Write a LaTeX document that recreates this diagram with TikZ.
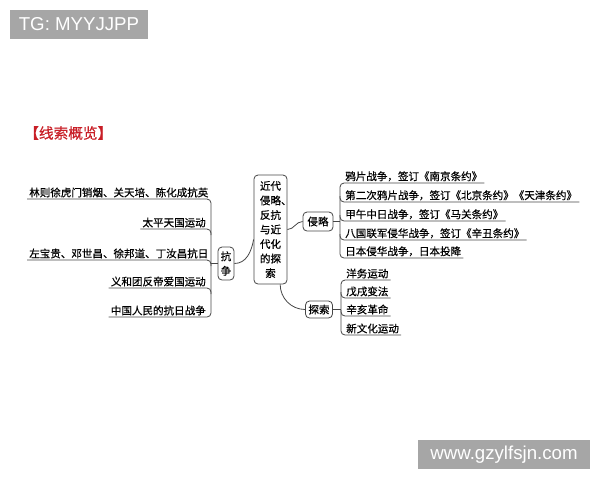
\documentclass[tikz,border=0pt]{standalone}
\usepackage{fontspec}
\setmainfont{Noto Sans CJK SC}[FakeBold=0.6]
\newfontfamily\latinfont{Liberation Sans}
\usetikzlibrary{calc}
\definecolor{wmgray}{RGB}{166,166,166}
\definecolor{titlered}{RGB}{200,30,38}
\definecolor{linegray}{RGB}{70,70,70}

\begin{document}
\begin{tikzpicture}[x=0.75pt, y=-0.75pt,
        item/.style={inner xsep=1.5pt, inner ysep=1pt, font=\fontsize{7.9}{9}\selectfont},
        box/.style={draw=linegray, line width=0.6pt, rounded corners=3pt, inner sep=0pt, align=center, font=\fontsize{7.9}{10.9}\selectfont},
        link/.style={draw=linegray, line width=0.6pt, rounded corners=3pt},
        mark box/.style={fill=wmgray, text=white, minimum height=21.75pt, font=\latinfont\fontsize{14}{14}\selectfont}]
        \useasboundingbox (0,0) rectangle (600,480);
        \node[mark box, minimum width=103.5pt] (tg) at (79,24.5) {TG: MYYJJPP};
        \node[mark box, minimum width=129pt] (web) at (504,454.5) {www.gzylfsjn.com};
        \node[anchor=west, inner sep=0pt, text=titlered, font=\fontsize{11}{12}\selectfont] (title) at (24,133) {【线索概览】};

        \node[item, anchor=south west] (k1) at (27,199) {林则徐虎门销烟、关天培、陈化成抗英};
        \node[item, anchor=south east] (k2) at (208,229) {太平天国运动};
        \node[item, anchor=south west] (k3) at (27,260) {左宝贵、邓世昌、徐邦道、丁汝昌抗日};
        \node[item, anchor=south east] (k4) at (208,288) {义和团反帝爱国运动};
        \node[item, anchor=south east] (k5) at (208,317) {中国人民的抗日战争};
        \coordinate (kx) at (211,0);
        \draw[link] (k1.south west) -| (kx |- k5.south) -- (k5.south west);
        \foreach \n in {k2,k3,k4} {
            \draw[link] (\n.south west) -| ($(kx |- \n.south)+(0,6)$);
            }

        \node[box, minimum width=12pt, minimum height=24.75pt] (kz) at (226,263.5) {抗\\争};
        \node[box, minimum width=24.75pt, minimum height=81.75pt] (zx) at (270.5,229.5) {近代\\侵略\rlap{、}\\反抗\\与近\\代化\\的探\\索};
        \node[box, minimum width=22.5pt, minimum height=14.25pt] (ql) at (318,221.5) {侵略};
        \node[box, minimum width=20.25pt, minimum height=12.75pt] (ts) at (319,309.5) {探索};
        \draw[link] (kx |- kz.west) -- (kz.west);
        \draw[link] (kz.east) to[out=0, in=-100] ($(zx.west)+(0,10)$);
        \draw[link] (zx.east) to[out=0, in=180] (ql.west);
        \draw[link] (zx.-80) to[out=-90, in=180] (ts.west);

        \node[item, anchor=south west] (q1) at (343,183) {鸦片战争，签订《南京条约》};
        \node[item, anchor=south west] (q2) at (343,202) {第二次鸦片战争，签订《北京条约》《天津条约》};
        \node[item, anchor=south west] (q3) at (343,221) {甲午中日战争，签订《马关条约》};
        \node[item, anchor=south west] (q4) at (343,240) {八国联军侵华战争，签订《辛丑条约》};
        \node[item, anchor=south west] (q5) at (343,258) {日本侵华战争，日本投降};
        \coordinate (qx) at (340,0);
        \draw[link] (q1.south east) -| (qx |- q5.south) -- (q5.south east);
        \foreach \n in {q2,q3,q4} {
            \draw[link] ($(qx |- \n.south)+(0,-6)$) |- (\n.south east);
            }
        \draw[link] (ql.east) -- (qx |- ql.east);

        \node[item, anchor=south west] (t1) at (344,280) {洋务运动};
        \node[item, anchor=south west] (t2) at (344,298) {戊戌变法};
        \node[item, anchor=south west] (t3) at (344,316) {辛亥革命};
        \node[item, anchor=south west] (t4) at (344,335) {新文化运动};
        \coordinate (tx) at (341,0);
        \draw[link] (t1.south east) -| (tx |- t4.south) -- (t4.south east);
        \foreach \n in {t2,t3} {
            \draw[link] ($(tx |- \n.south)+(0,-6)$) |- (\n.south east);
            }
        \draw[link] (ts.east) -- (tx |- ts.east);
    \end{tikzpicture}
\end{document}
